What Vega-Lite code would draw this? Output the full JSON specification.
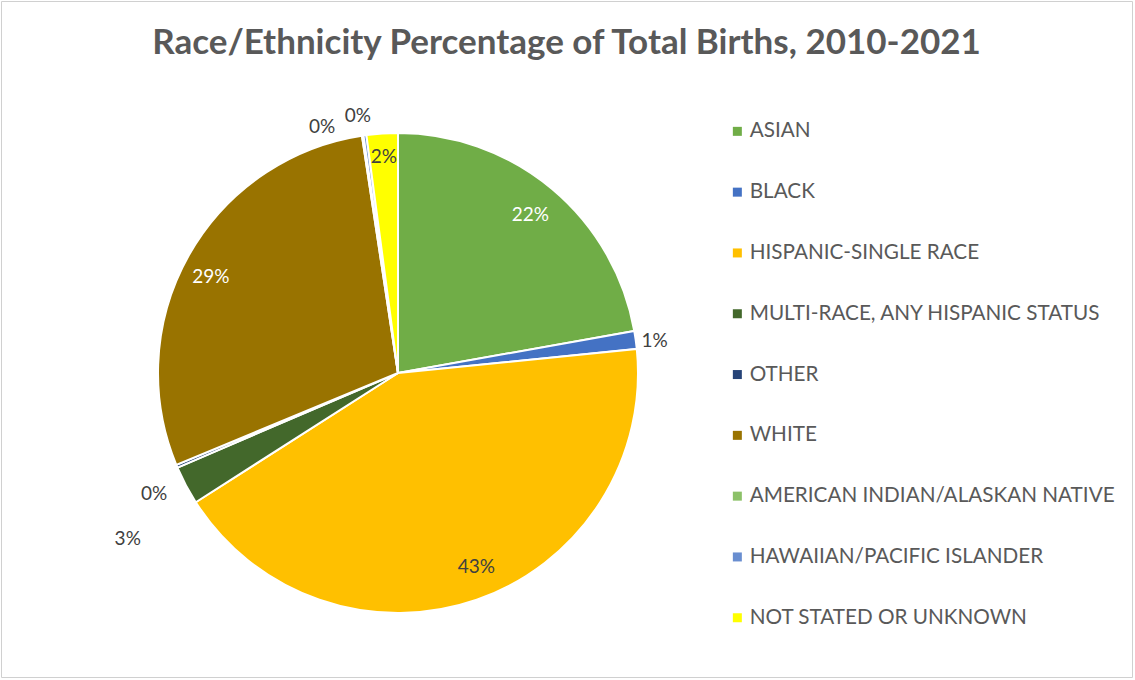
{
  "$schema": "https://vega.github.io/schema/vega-lite/v6.json",
  "width": 1131,
  "height": 676,
  "autosize": "none",
  "padding": {"left": 1, "top": 1, "right": 3, "bottom": 3},
  "background": "white",
  "view": {"stroke": "#d0d0d0", "strokeWidth": 1, "fill": "white"},
  "title": {
    "text": "Race/Ethnicity Percentage of Total Births, 2010-2021",
    "font": "Lato",
    "fontSize": 35,
    "fontWeight": "bold",
    "color": "#595959",
    "anchor": "middle",
    "orient": "top",
    "baseline": "alphabetic",
    "offset": -88
  },
  "config": {
    "text": {"font": "Lato", "fontSize": 19, "align": "center", "baseline": "middle"}
  },
  "data": {
    "values": [
      {"race": "ASIAN", "share": 0.222, "rank": 1},
      {"race": "BLACK", "share": 0.012, "rank": 2},
      {"race": "HISPANIC-SINGLE RACE", "share": 0.4255, "rank": 3},
      {"race": "MULTI-RACE, ANY HISPANIC STATUS", "share": 0.026, "rank": 4},
      {"race": "OTHER", "share": 0.002, "rank": 5},
      {"race": "WHITE", "share": 0.2885, "rank": 6},
      {"race": "AMERICAN INDIAN/ALASKAN NATIVE", "share": 0.001, "rank": 7},
      {"race": "HAWAIIAN/PACIFIC ISLANDER", "share": 0.002, "rank": 8},
      {"race": "NOT STATED OR UNKNOWN", "share": 0.021, "rank": 9}
    ]
  },
  "encoding": {
    "theta": {"field": "share", "type": "quantitative", "stack": true},
    "order": {"field": "rank", "type": "quantitative"}
  },
  "layer": [
    {
      "mark": {"type": "arc", "outerRadius": 240, "x": 397, "y": 372, "stroke": "white", "strokeWidth": 2},
      "encoding": {
        "color": {
          "field": "race",
          "type": "nominal",
          "scale": {
            "domain": ["ASIAN", "BLACK", "HISPANIC-SINGLE RACE", "MULTI-RACE, ANY HISPANIC STATUS", "OTHER", "WHITE", "AMERICAN INDIAN/ALASKAN NATIVE", "HAWAIIAN/PACIFIC ISLANDER", "NOT STATED OR UNKNOWN"],
            "range": ["#70AD47", "#4472C4", "#FFC000", "#43682B", "#264478", "#997300", "#8CC168", "#698ED0", "#FFFF00"]
          },
          "legend": {
            "title": null,
            "orient": "none",
            "legendX": 726,
            "legendY": 120,
            "padding": 0,
            "symbolType": "square",
            "symbolSize": 81,
            "symbolStrokeWidth": 0,
            "labelFont": "Lato",
            "labelFontSize": 20.7,
            "labelColor": "#595959",
            "labelOffset": 2,
            "labelLimit": 500,
            "rowPadding": 38.8
          }
        }
      }
    },
    {
      "mark": {"type": "text", "radius": 206, "x": 397, "y": 372, "color": "#ffffff"},
      "encoding": {
        "text": {"condition": {"test": "datum.race==='ASIAN'", "field": "share", "format": ".0%"}, "value": ""}
      }
    },
    {
      "mark": {"type": "text", "radius": 208, "x": 397, "y": 372, "dx": -6, "dy": 6, "color": "#ffffff"},
      "encoding": {
        "text": {"condition": {"test": "datum.race==='WHITE'", "field": "share", "format": ".0%"}, "value": ""}
      }
    },
    {
      "mark": {"type": "text", "radius": 208, "x": 397, "y": 372, "dx": 10, "dy": -2, "color": "#404040"},
      "encoding": {
        "text": {"condition": {"test": "datum.race==='HISPANIC-SINGLE RACE'", "field": "share", "format": ".0%"}, "value": ""}
      }
    },
    {
      "mark": {"type": "text", "radius": 216, "x": 397, "y": 372, "color": "#404040"},
      "encoding": {
        "text": {"condition": {"test": "datum.race==='NOT STATED OR UNKNOWN'", "field": "share", "format": ".0%"}, "value": ""}
      }
    },
    {
      "mark": {"type": "text", "radius": 259, "x": 397, "y": 372, "dy": 4, "color": "#404040"},
      "encoding": {
        "text": {"condition": {"test": "datum.race==='BLACK'", "field": "share", "format": ".0%"}, "value": ""}
      }
    },
    {
      "mark": {"type": "text", "radius": 316, "x": 397, "y": 372, "dx": 9, "dy": 18, "color": "#404040"},
      "encoding": {
        "text": {"condition": {"test": "datum.race==='MULTI-RACE, ANY HISPANIC STATUS'", "field": "share", "format": ".0%"}, "value": ""}
      }
    },
    {
      "mark": {"type": "text", "radius": 270, "x": 397, "y": 372, "dx": 5, "dy": 16, "color": "#404040"},
      "encoding": {
        "text": {"condition": {"test": "datum.race==='OTHER'", "field": "share", "format": ".0%"}, "value": ""}
      }
    },
    {
      "mark": {"type": "text", "radius": 257, "x": 397, "y": 372, "dx": -38, "dy": 8, "color": "#404040"},
      "encoding": {
        "text": {"condition": {"test": "datum.race==='AMERICAN INDIAN/ALASKAN NATIVE'", "field": "share", "format": ".0%"}, "value": ""}
      }
    },
    {
      "mark": {"type": "text", "radius": 262, "x": 397, "y": 372, "dx": -4, "dy": 3, "color": "#404040"},
      "encoding": {
        "text": {"condition": {"test": "datum.race==='HAWAIIAN/PACIFIC ISLANDER'", "field": "share", "format": ".0%"}, "value": ""}
      }
    }
  ]
}
